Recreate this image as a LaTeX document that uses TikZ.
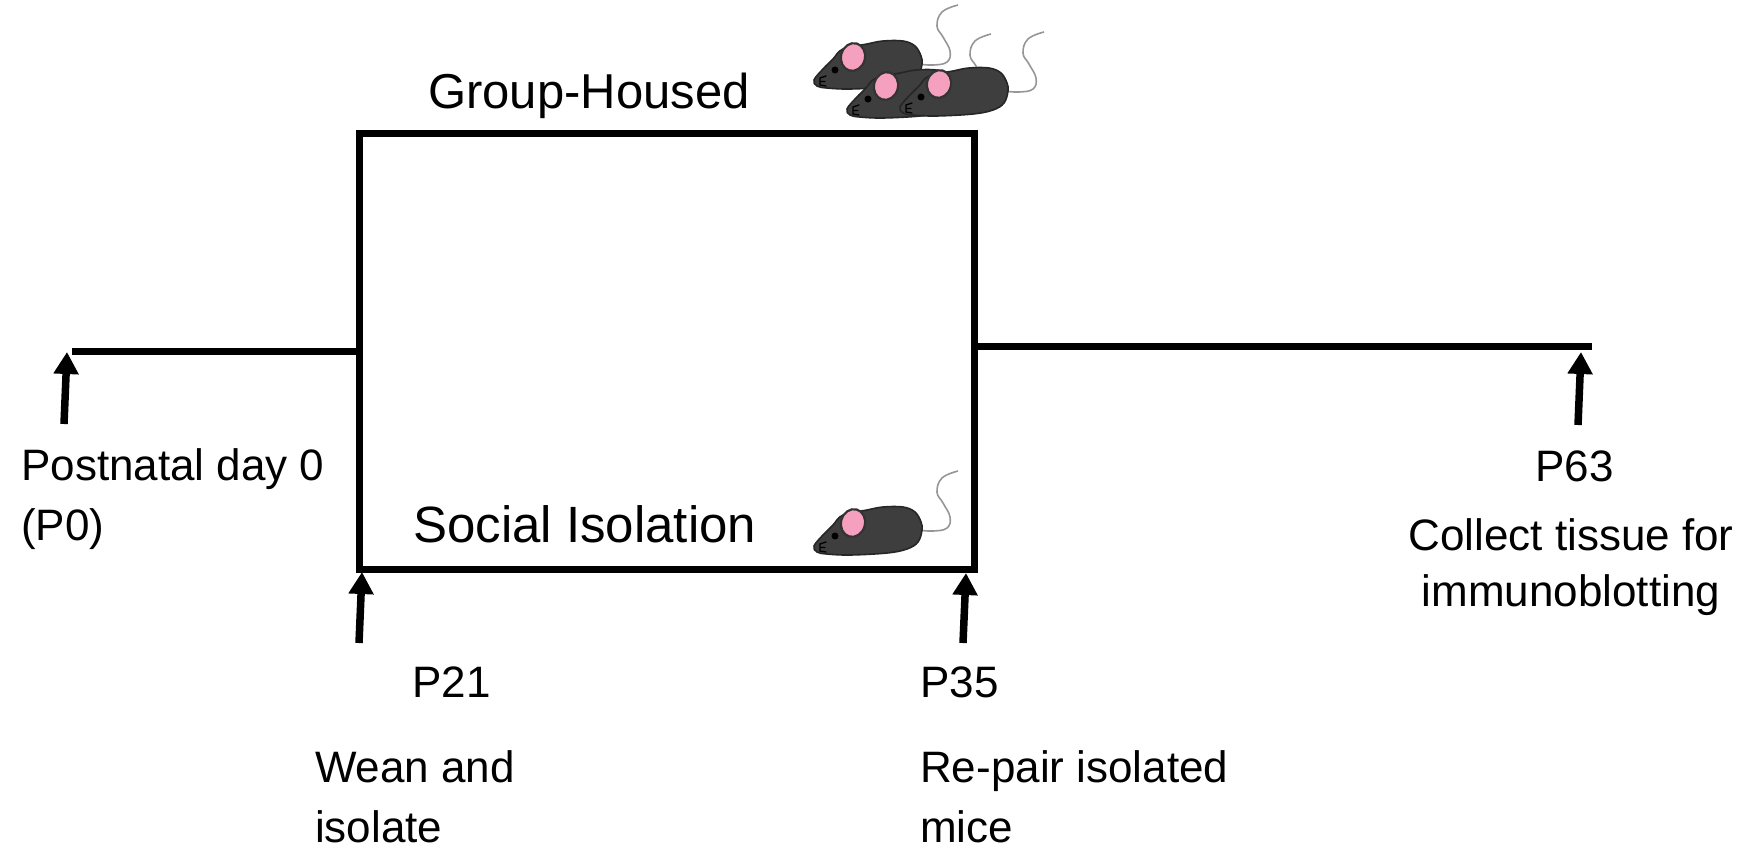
\documentclass[tikz,border=0pt]{standalone}
\usepackage{fontspec}
\setmainfont{Liberation Sans}
\usetikzlibrary{arrows.meta}

\definecolor{furgray}{RGB}{62,62,62}
\definecolor{earpink}{RGB}{244,160,190}
\definecolor{tailgray}{RGB}{150,150,150}

\tikzset{
  phase/.style={line width=7pt},
  timeline/.style={line width=7pt},
  marker/.style={line width=7.5pt, -{Triangle[width=24pt,length=22pt]}},
  title/.style={font=\fontsize{49}{58}\selectfont, inner sep=0pt, anchor=base west},
  label/.style={font=\fontsize{44}{52}\selectfont, inner sep=0pt, anchor=base west},
}

% a cartoon mouse, nose tip at the local origin (y grows downwards)
\newcommand{\drawmouse}[1]{%
  \begin{scope}[shift={#1}]
    \draw[tailgray, line width=1.6pt]
      plot[smooth, tension=0.7] coordinates {(104,-16) (119,-15) (133,-18) (136,-29) (129,-43) (123,-54) (128,-68) (144,-75)};
    \filldraw[fill=furgray, draw=black!85, line width=1.6pt]
      plot[smooth cycle, tension=0.6] coordinates {(0,0) (9,-11) (19,-21) (29,-31) (53,-36) (69,-39) (89,-39) (101,-34) (107,-24) (108,-16) (104,-4) (93,3) (73,7) (36,9) (13,8) (3,6)};
    \filldraw[fill=earpink, draw=black!80, line width=2.2pt, rotate around={-15:(39,-23)}]
      (39,-23) ellipse [x radius=12, y radius=14];
    \fill[black] (21,-10) circle [radius=3.5];
    \draw[black, line width=1.3pt, line cap=round]
      (12,-4) -- (6,-2) -- (6,5) -- (12,6) (6,1.5) -- (11,1.5);
  \end{scope}%
}

\begin{document}
\begin{tikzpicture}[x=1pt, y=-1pt]
  \useasboundingbox (0,0) rectangle (1750,849);

  % housing period box
  \node[phase, draw, minimum width=615pt, minimum height=436pt, inner sep=0pt]
    (box) at (666.5,351) {};

  % timeline ends
  \coordinate (t0)  at (72,351);
  \coordinate (t63) at (1592,346);
  \draw[timeline] (t0) -- (box.west);
  \draw[timeline] (box.east |- t63) -- (t63);

  % arrow positions
  \coordinate (a0s)  at (64,424);   \coordinate (a0e)  at (67,352);
  \coordinate (a21s) at (359,643);  \coordinate (a21e) at (362,572);
  \coordinate (a35s) at (963,643);  \coordinate (a35e) at (966,573);
  \coordinate (a63s) at (1578,425); \coordinate (a63e) at (1581,352);
  \draw[marker] (a0s)  -- (a0e);
  \draw[marker] (a21s) -- (a21e);
  \draw[marker] (a35s) -- (a35e);
  \draw[marker] (a63s) -- (a63e);

  % group titles
  \node[title] (gh) at (428,108) {Group-Housed};
  \node[title, font=\fontsize{51}{60}\selectfont] (si) at (413,542) {Social Isolation};

  % time point labels
  \node[label] (p0a) at (21,480) {Postnatal day 0};
  \node[label] (p0b) at (21,540) {(P0)};

  \node[label] (p21)  at (412,697) {P21};
  \node[label] (p21a) at (315,782) {Wean and};
  \node[label] (p21b) at (315,842) {isolate};

  \node[label] (p35)  at (920,697) {P35};
  \node[label] (p35a) at (920,782) {Re-pair isolated};
  \node[label] (p35b) at (920,842) {mice};

  \node[label] (p63)  at (1535,481) {P63};
  \node[label, anchor=base] (p63a) at (1571,550) {Collect tissue for};
  \node[label, anchor=base] (p63b) at (1571,606) {immunoblotting};

  % mice
  \drawmouse{(814,80)}
  \drawmouse{(847,109)}
  \drawmouse{(900,107)}
  \drawmouse{(814,546)}
\end{tikzpicture}
\end{document}
